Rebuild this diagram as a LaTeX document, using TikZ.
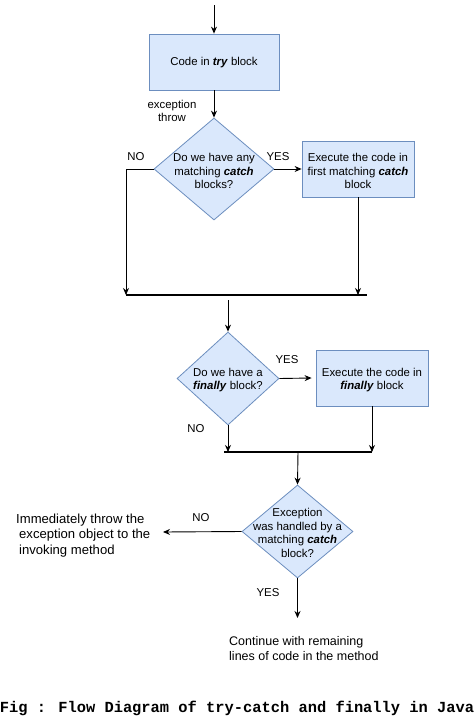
\documentclass[tikz,border=0pt]{standalone}
\usepackage{fontspec}
\setmainfont{Liberation Sans}
\newfontfamily\capfont{Liberation Mono}
\usetikzlibrary{shapes.geometric,arrows.meta}
\definecolor{boxfill}{HTML}{DAE8FC}
\definecolor{boxdraw}{HTML}{6C8EBF}
\begin{document}
\begin{tikzpicture}[x=1pt,y=-1pt,
  box/.style={draw=boxdraw, fill=boxfill, rectangle, inner sep=0, line width=0.8pt},
  dia/.style={draw=boxdraw, fill=boxfill, diamond, inner sep=0, line width=0.8pt},
  txt/.style={font=\fontsize{11.4}{13.5}\selectfont, align=center, inner sep=0},
  bigtxt/.style={font=\fontsize{13.1}{15.5}\selectfont, align=left, inner sep=0},
  arr/.style={-{Stealth[length=7pt,width=6pt]}, line width=0.9pt},
  barline/.style={line width=2pt}]
\useasboundingbox (0,0) rectangle (474,723);
\fill[white] (0,0) rectangle (474,723);
% nodes
\coordinate (start) at (214,5);
\node[box, minimum width=130, minimum height=56] (b1) at (214,62) {};
\node[txt] (b1t) at (214,63) {Code in \textbf{\textit{try}} block};
\node[dia, minimum width=120, minimum height=102] (d1) at (214,169) {};
\node[txt] (d1t) at (214,171) {Do we have any\\matching \textbf{\textit{catch}}\\blocks?};
\node[box, minimum width=112, minimum height=56] (b2) at (358,169) {};
\node[txt] (b2t) at (358,171) {Execute the code in\\first matching \textbf{\textit{catch}}\\block};
\coordinate (bar1L) at (126,295);
\coordinate (bar1R) at (367,295);
\coordinate (bar1out) at (228,300);
\node[dia, minimum width=102, minimum height=93] (d2) at (228,378.5) {};
\node[txt] (d2t) at (228,380) {Do we have a\\\textbf{\textit{finally}} block?};
\node[box, minimum width=112, minimum height=56] (b3) at (372,378) {};
\node[txt] (b3t) at (372,380) {Execute the code in\\\textbf{\textit{finally}} block};
\coordinate (bar2L) at (224,452);
\coordinate (bar2R) at (372,452);
\coordinate (bar2out) at (298,452);
\node[dia, minimum width=111, minimum height=93] (d3) at (297.5,531.5) {};
\node[txt] (d3t) at (297.5,533) {Exception\\was handled by a\\matching \textbf{\textit{catch}}\\block?};
\coordinate (noend) at (163,532);
\coordinate (yesend) at (297.5,618);
\node[bigtxt, anchor=west] (left) at (16,535.5) {Immediately throw the\\\hspace*{3pt}exception object to the\\\hspace*{3pt}invoking method};
\node[bigtxt, anchor=west, font=\fontsize{12.5}{15}\selectfont] (cont) at (229,648.5) {Continue with remaining\\lines of code in the method};
\node[font=\capfont\bfseries\fontsize{15.4}{18}\selectfont, inner sep=0] (cap) at (237,708) {Fig : Flow Diagram of try-catch and finally in Java};
% labels
\node[txt] (lexc) at (172,111) {exception\\throw};
\node[txt] (lno1) at (136,157) {NO};
\node[txt] (lyes1) at (278,157) {YES};
\node[txt] (lyes2) at (287,360) {YES};
\node[txt] (lno2) at (196,429) {NO};
\node[txt] (lno3) at (201,518) {NO};
\node[txt] (lyes3) at (268,593) {YES};
% connectors
\draw[arr] (start) -- (b1.north);
\draw[arr] (b1.south) -- (d1.north);
\draw[arr] (d1.east) -- (b2.west);
\draw[arr] (d1.west) -| (bar1L);
\draw[arr] (b2.south) -- (b2.south |- bar1L);
\draw[barline] (bar1L) -- (bar1R);
\draw[arr] (bar1out) -- (d2.north);
\draw[arr] (d2.east) -- ([xshift=-4pt]b3.west);
\draw[arr] (d2.south) -- (d2.south |- bar2L);
\draw[arr] (b3.south) -- (bar2R);
\draw[barline] (bar2L) -- (bar2R);
\draw[arr] (bar2out) -- (d3.north);
\draw[arr] (d3.west) -- (noend);
\draw[arr] (d3.south) -- (yesend);
\end{tikzpicture}
\end{document}
